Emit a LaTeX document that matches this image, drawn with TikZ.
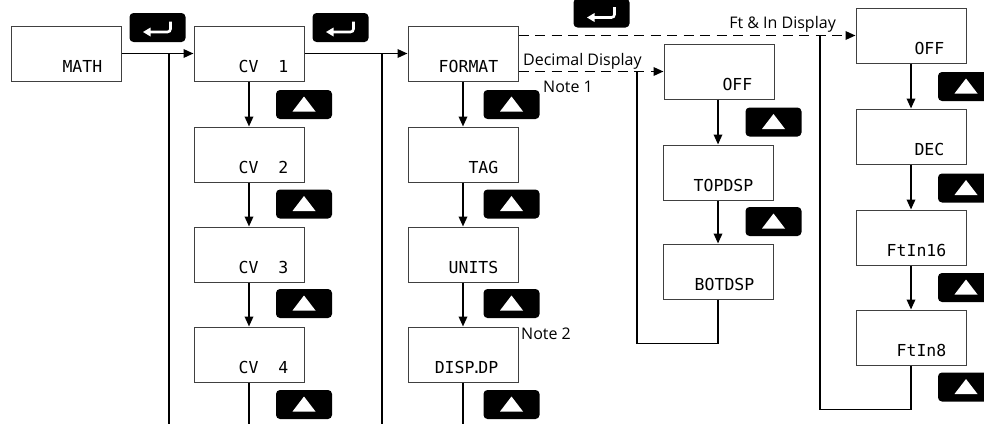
\documentclass[tikz,border=0pt]{standalone}
\usepackage{fontspec}
\setmainfont{Open Sans}
\newfontfamily\lcdfont{DejaVu Sans Mono}
\usetikzlibrary{arrows.meta,calc}
\tikzset{
  lcdbox/.style={draw=black!75, line width=1pt, minimum width=110pt, minimum height=55pt, inner sep=0pt, fill=white},
  lcdtext/.style={font=\lcdfont\fontsize{16.5}{16.5}\selectfont, inner sep=0pt, anchor=base east},
  conn/.style={line width=1.8pt, -{Triangle[length=10pt,width=8.5pt]}},
  plain/.style={line width=1.8pt},
  dashconn/.style={line width=1.8pt, dash pattern=on 10pt off 6.5pt, -{Triangle[length=10pt,width=8.5pt]}},
  note/.style={font=\fontsize{16}{16}\selectfont, inner sep=0pt},
  keybg/.style={fill=black, rounded corners=4pt, minimum width=56pt, minimum height=29pt, inner sep=0pt},
  pics/upkey/.style={code={
    \node[keybg] (-k) at (0,0) {};
    \fill[white] (0,-8) -- (11.5,7) -- (-11.5,7) -- cycle;
  }},
  pics/retkey/.style={code={
    \node[keybg] (-k) at (0,0) {};
    \draw[white, line width=2.6pt, rounded corners=3pt] (13,-6) -- (13,4.5) -- (-8,4.5);
    \fill[white] (-14.5,4.5) -- (-7,0) -- (-7,9) -- cycle;
  }},
}
\begin{document}
\begin{tikzpicture}[x=1pt, y=-1pt]
\useasboundingbox (0,0) rectangle (984,423);
\clip (0,0) rectangle (984,423);

% boxes
\node[lcdbox] (math) at (66,53.5) {};
\node[lcdbox] (cv1) at (249,53.5) {};
\node[lcdbox] (cv2) at (249,154.5) {};
\node[lcdbox] (cv3) at (249,254.5) {};
\node[lcdbox] (cv4) at (249,354.5) {};
\node[lcdbox] (format) at (463,53.5) {};
\node[lcdbox] (tag) at (463,154.5) {};
\node[lcdbox] (units) at (463,254.5) {};
\node[lcdbox] (dispdp) at (463,354.5) {};
\node[lcdbox] (decoff) at (719,71.5) {};
\node[lcdbox] (topdsp) at (718,172.5) {};
\node[lcdbox] (botdsp) at (718,271.5) {};
\node[lcdbox] (ftoff) at (911,35.5) {};
\node[lcdbox] (dec) at (911,136.5) {};
\node[lcdbox] (ftin16) at (911,237.5) {};
\node[lcdbox] (ftin8) at (911,337.5) {};

% box texts
\node[lcdtext] (tmath) at ($(math.east)+(-19,18.5)$) {MATH};
\node[lcdtext] (tcv1) at ($(cv1.east)+(-16,18.5)$) {CV~~1};
\node[lcdtext] (tcv2) at ($(cv2.east)+(-16,18.5)$) {CV~~2};
\node[lcdtext] (tcv3) at ($(cv3.east)+(-16,18.5)$) {CV~~3};
\node[lcdtext] (tcv4) at ($(cv4.east)+(-16,18.5)$) {CV~~4};
\node[lcdtext] (tformat) at ($(format.east)+(-20,18.5)$) {FORMAT};
\node[lcdtext] (ttag) at ($(tag.east)+(-20,18.5)$) {TAG};
\node[lcdtext] (tunits) at ($(units.east)+(-20,18.5)$) {UNITS};
\node[lcdtext] (tdispdp) at ($(dispdp.east)+(-20,18.5)$) {DISP\kern-3pt.\kern-3pt DP};
\node[lcdtext] (tdecoff) at ($(decoff.east)+(-22,18.5)$) {OFF};
\node[lcdtext] (ttopdsp) at ($(topdsp.east)+(-20,18.5)$) {TOPDSP};
\node[lcdtext] (tbotdsp) at ($(botdsp.east)+(-19,18.5)$) {BOTDSP};
\node[lcdtext] (tftoff) at ($(ftoff.east)+(-22,18.5)$) {OFF};
\node[lcdtext] (tdec) at ($(dec.east)+(-22,18.5)$) {DEC};
\node[lcdtext] (tftin16) at ($(ftin16.east)+(-20,18.5)$) {FtIn16};
\node[lcdtext] (tftin8) at ($(ftin8.east)+(-20,18.5)$) {FtIn8};

% keys
\pic (r1) at (157.5,27.5) {retkey};
\pic (r2) at (340.5,27.5) {retkey};
\pic (r3) at (601.5,13) {retkey};
\foreach \y [count=\i] in {104.5,204,303.5,404.5} {
  \pic (ua\i) at (304,\y) {upkey};
  \pic (ub\i) at (511.5,\y) {upkey};
}
\pic (uc1) at (773.5,122) {upkey};
\pic (uc2) at (773.5,221.5) {upkey};
\foreach \y [count=\i] in {86.5,188,287.5,387} {
  \pic (ud\i) at (966,\y) {upkey};
}

% coordinates
\coordinate (j1) at (169,53.5);
\coordinate (b1) at (169,430);
\coordinate (j2) at (382,53.5);
\coordinate (b2) at (382,430);
\coordinate (b3) at (249,430);
\coordinate (b4) at (463,430);
\coordinate (jd) at (637,71.5);
\coordinate (jf) at (820,35.5);

% connectors
\draw[conn] (math.east) -- (cv1.west);
\draw[plain] (b1) -- (j1);
\draw[conn] (cv1.east) -- (format.west);
\draw[plain] (b2) -- (j2);
\draw[conn] (cv1) -- (cv2);
\draw[conn] (cv2) -- (cv3);
\draw[conn] (cv3) -- (cv4);
\draw[plain] (cv4.south) -- (b3);
\draw[conn] (format) -- (tag);
\draw[conn] (tag) -- (units);
\draw[conn] (units) -- (dispdp);
\draw[plain] (dispdp.south) -- (b4);
\draw[dashconn] (format.east |- ftoff.west) -- (ftoff.west);
\draw[dashconn] (format.east |- decoff.west) -- (decoff.west);
\draw[conn] (decoff.south -| topdsp.north) -- (topdsp.north);
\draw[conn] (topdsp) -- (botdsp);
\draw[plain] (botdsp.south) -- ++(0,44) -| (jd);
\draw[conn] (ftoff) -- (dec);
\draw[conn] (dec) -- (ftin16);
\draw[conn] (ftin16) -- (ftin8);
\draw[plain] (ftin8.south) -- ++(0,44) -| (jf);

% labels
\node[note, anchor=base east] (lft) at (836,28) {Ft \& In Display};
\node[note, anchor=base west] (ldec) at (523,65) {Decimal Display};
\node[note, anchor=base west] (ln1) at (543,92) {Note 1};
\node[note, anchor=base west] (ln2) at (521,339) {Note 2};
\end{tikzpicture}
\end{document}
